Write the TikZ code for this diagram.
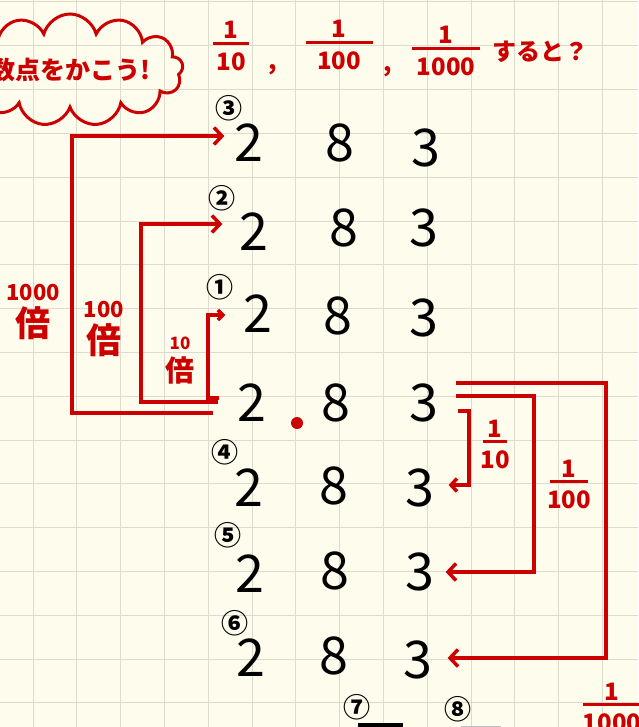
\documentclass[tikz,border=0pt]{standalone}
\usepackage{fontspec}
\setmainfont{Noto Sans CJK JP}
\usetikzlibrary{arrows.meta,shapes.symbols}
\definecolor{akapen}{RGB}{204,0,0}
\definecolor{paper}{RGB}{254,252,237}
\definecolor{gridgray}{RGB}{222,219,206}
% fraction: numerator, denominator, bar length
\newcommand{\bunsu}[3]{\vbox{\offinterlineskip\halign{\hfil##\hfil\cr #1\cr\noalign{\kern3pt}\rule{#3}{3pt}\cr\noalign{\kern8pt}#2\cr}}}

\begin{document}
\begin{tikzpicture}[x=1pt,y=-1pt,
    digit node/.style={inner sep=0pt,font=\fontsize{52}{52}\selectfont},
    circ node/.style={inner sep=0pt,font=\fontsize{27}{27}\selectfont\bfseries},
    red text/.style={text=akapen,inner sep=0pt,font=\fontsize{24}{24}\selectfont\bfseries},
    red label/.style={text=akapen,inner sep=0pt,align=center,font=\fontsize{35}{36}\selectfont\bfseries},
    frac node/.style={text=akapen,inner sep=0pt,font=\fontsize{24}{24}\selectfont\bfseries},
    red line/.style={draw=akapen,line width=3.5pt},
    red arrow/.style={red line,-{Straight Barb[length=8pt,width=17pt]}},
    small arrow/.style={red line,-{Straight Barb[length=5pt,width=10pt]}}]

	\useasboundingbox (0,0) rectangle (638,727);
	\fill[paper] (0,0) rectangle (638,727);
	\foreach \gx in {0,...,13}
		\draw[gridgray,line width=1pt] (33+43.8*\gx,0) -- (33+43.8*\gx,727);
	\foreach \gy in {0,...,16}
		\draw[gridgray,line width=1pt] (0,2+43.8*\gy) -- (638,2+43.8*\gy);

	% title
	\node[cloud,cloud puffs=13,cloud ignores aspect,draw=akapen,line width=3pt,
	  minimum width=226pt,minimum height=112pt,red text,font=\fontsize{25}{25}\selectfont\bfseries] (title) at (70,70) {数点をかこう!};
	\node[frac node] (t10) at (231,46) {\bunsu{1}{10}{36pt}};
	\node[red text] (comma1) at (273,70) {,};
	\node[frac node] (t100) at (339,45) {\bunsu{1}{100}{67pt}};
	\node[red text] (comma2) at (388,72) {,};
	\node[frac node] (t1000) at (446,51) {\bunsu{1}{1000}{68pt}};
	\node[red text,anchor=west] (suru) at (492,52) {すると？};

	% digits
	\node[digit node] (up3-2) at (249,143) {2};
	\node[digit node] (up3-8) at (340,143) {8};
	\node[digit node] (up3-3) at (426,148) {3};
	\node[digit node] (up2-2) at (254,232) {2};
	\node[digit node] (up2-8) at (344,228) {8};
	\node[digit node] (up2-3) at (424,228) {3};
	\node[digit node] (up1-2) at (258,314) {2};
	\node[digit node] (up1-8) at (338,316) {8};
	\node[digit node] (up1-3) at (424,318) {3};
	\node[digit node] (base-2) at (252,403) {2};
	\node[digit node] (base-8) at (336,403) {8};
	\node[digit node] (base-3) at (424,403) {3};
	\node[circle,fill=akapen,inner sep=0pt,minimum size=12pt] (point) at (297,423) {};
	\node[digit node] (dn1-2) at (249,488) {2};
	\node[digit node] (dn1-8) at (334,486) {8};
	\node[digit node] (dn1-3) at (420,488) {3};
	\node[digit node] (dn2-2) at (250,574) {2};
	\node[digit node] (dn2-8) at (335,571) {8};
	\node[digit node] (dn2-3) at (420,572) {3};
	\node[digit node] (dn3-2) at (251,658) {2};
	\node[digit node] (dn3-8) at (334,656) {8};
	\node[digit node] (dn3-3) at (418,660) {3};

	\node[circ node] (n3) at (229,108) {③};
	\node[circ node] (n2) at (222,198) {②};
	\node[circ node] (n1) at (220,287) {①};
	\node[circ node] (n4) at (225,452) {④};
	\node[circ node] (n5) at (228,535) {⑤};
	\node[circ node] (n6) at (235,623) {⑥};
	\node[circ node] (n7) at (357,707) {⑦};
	\node[circ node] (n8) at (458,709) {⑧};
	\node[fill=black,inner sep=0pt,minimum width=45pt,minimum height=8pt] (bar7) at (380,727) {};
	\node[fill=black!25,inner sep=0pt,minimum width=40pt,minimum height=5pt] (bar8) at (481,728) {};

	% times 10, 100, 1000
	\coordinate (k1000) at (72,300);
	\coordinate (k100) at (141,300);
	\coordinate (k10) at (208,350);
	\draw[red arrow] ([shift={(-24,10)}]base-2.west) -| (k1000) |- ([shift={(-10,-7)}]up3-2.west);
	\draw[red arrow] ([shift={(-19,-1)}]base-2.west) -| (k100) |- ([shift={(-17,-8)}]up2-2.west);
	\draw[small arrow] ([shift={(-18,-5)}]base-2.west) -| (k10) |- ([shift={(-18,1)}]up1-2.west);
	\node[red label] (lbl1000) at (33,312) {{\fontsize{22}{22}\selectfont 1000}\\倍};
	\node[red label] (lbl100) at (104,329) {{\fontsize{22}{22}\selectfont 100}\\倍};
	\node[red label,font=\fontsize{29}{32}\selectfont\bfseries] (lbl10) at (180,361) {{\fontsize{17}{17}\selectfont 10}\\倍};

	% 1/10, 1/100, 1/1000
	\coordinate (k1000r) at (606,500);
	\coordinate (k100r) at (534,480);
	\coordinate (k10r) at (469,450);
	\draw[red arrow] ([shift={(17,-20)}]base-3.east) -| (k1000r) |- ([shift={(15,-2)}]dn3-3.east);
	\draw[red arrow] ([shift={(17,-7)}]base-3.east) -| (k100r) |- ([shift={(11,0)}]dn2-3.east);
	\draw[red line,-{Straight Barb[length=6pt,width=13pt]}] ([shift={(19,8)}]base-3.east) -| (k10r) |- ([shift={(14,-3)}]dn1-3.east);
	\node[frac node] (r10) at (495,444.5) {\bunsu{1}{10}{24pt}};
	\node[frac node] (r100) at (569,484.5) {\bunsu{1}{100}{38pt}};
	\node[frac node] (b1000) at (612,707.5) {\bunsu{1}{1000}{58pt}};

\end{tikzpicture}
\end{document}
